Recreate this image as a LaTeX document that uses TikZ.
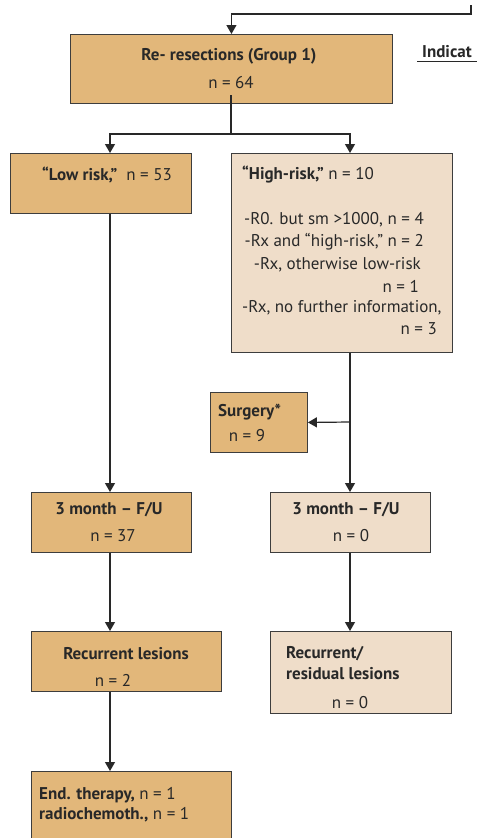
\documentclass[tikz,border=0pt]{standalone}
\usepackage{fontspec}
\setmainfont{PT Sans}
\usetikzlibrary{arrows.meta,calc}
\definecolor{dark}{RGB}{226,183,122}
\definecolor{light}{RGB}{239,221,201}
\definecolor{ink}{RGB}{40,40,40}
\tikzset{
  boxd/.style={draw=ink!90,line width=0.9pt,fill=dark,rectangle,inner sep=0pt,anchor=north west},
  boxl/.style={draw=ink!90,line width=0.9pt,fill=light,rectangle,inner sep=0pt,anchor=north west},
  conn/.style={draw=ink,line width=1.2pt},
  arr/.style={conn,-{Triangle[length=9pt,width=10pt]}},
  txt/.style={inner sep=0pt,font=\fontsize{17}{20}\selectfont,text=ink},
}
\begin{document}
\begin{tikzpicture}[x=1pt,y=-1pt]
\useasboundingbox[fill=white] (0,0) rectangle (477,838);
% boxes
\node[boxd,minimum width=322pt,minimum height=69pt] (b1) at (70,34) {};
\node[boxd,minimum width=181pt,minimum height=60pt] (low) at (10,153) {};
\node[boxl,minimum width=221pt,minimum height=199pt] (high) at (231,153) {};
\node[boxd,minimum width=97pt,minimum height=60pt] (surg) at (210,392) {};
\node[boxd,minimum width=160pt,minimum height=60pt] (fl) at (31,492) {};
\node[boxl,minimum width=160pt,minimum height=60pt] (fr) at (270,492) {};
\node[boxd,minimum width=190pt,minimum height=60pt] (rl) at (31,631) {};
\node[boxl,minimum width=181pt,minimum height=82pt] (rr) at (270,631) {};
\node[boxd,minimum width=200pt,minimum height=90pt] (end) at (31,771) {};
% texts
\node[txt] (t1a) at (229,56) {\bfseries Re- resections (Group 1)};
\node[txt] (t1b) at (231,83) {n = 64};
\node[txt] (tlow) at (107,175) {\bfseries “Low risk,”\mdseries\ \ n = 53};
\node[txt,anchor=west] (th0) at (242,175) {\bfseries “High-risk,”\mdseries\ n = 10};
\node[txt,anchor=east] (th1) at (424,220) {-R0. but sm >1000, n = 4};
\node[txt,anchor=east] (th2) at (424,242) {-Rx and “high-risk,” n = 2};
\node[txt,anchor=east] (th3) at (421,265) {-Rx, otherwise low-risk};
\node[txt,anchor=east] (th4) at (419,286) {n = 1};
\node[txt,anchor=west] (th5) at (242,308) {-Rx, no further information,};
\node[txt,anchor=east] (th6) at (437,329) {n = 3};
\node[txt,anchor=west] (ts1) at (218,412) {\bfseries Surgery*};
\node[txt] (ts2) at (247,436) {n = 9};
\node[txt] (tfl1) at (109,510) {\bfseries 3 month – F/U};
\node[txt] (tfl2) at (113,536) {n = 37};
\node[txt] (tfr1) at (346,510) {\bfseries 3 month – F/U};
\node[txt] (tfr2) at (351,536) {n = 0};
\node[txt] (trl1) at (126,654) {\bfseries Recurrent lesions};
\node[txt] (trl2) at (113,680) {n = 2};
\node[txt,anchor=west] (trr1) at (286,654) {\bfseries Recurrent/};
\node[txt,anchor=west] (trr2) at (286,674) {\bfseries residual lesions};
\node[txt] (trr3) at (350,703) {n = 0};
\node[txt,anchor=west] (te1) at (39,795) {\bfseries End. therapy,\mdseries\ n = 1};
\node[txt,anchor=west] (te2) at (39,815) {\bfseries radiochemoth.,\mdseries\ n = 1};
\node[txt,anchor=west] (ind) at (422,52) {\bfseries Indicat};
\coordinate (u1) at (417,61);
\coordinate (u2) at (477,61);
\draw[ink,line width=1pt] (u1) -- (u2);
% helper coordinates
\coordinate (lx) at (110,0);
\coordinate (rx) at (350,0);
\coordinate (tr) at (471,5);
\coordinate (tc) at (471,14);
\coordinate (b1s) at (231,95);
\coordinate (split) at (231,134);
\coordinate (sb) at (350,422);
% connectors
\draw[arr] (tr) -- (tc) -| (b1.north);
\draw[conn] (b1s) -- (split);
\draw[arr] (split) -| (low.north -| lx);
\draw[arr] (split) -| (high.north -| rx);
\draw[arr] (low.south -| lx) -- (fl.north -| lx);
\draw[arr] (high.south -| rx) -- (fr.north -| rx);
\draw[arr] (sb) -- (surg.east);
\draw[arr] (fl.south -| lx) -- (rl.north -| lx);
\draw[arr] (fr.south -| rx) -- (rr.north -| rx);
\draw[arr] (rl.south -| lx) -- (end.north -| lx);
\end{tikzpicture}
\end{document}
